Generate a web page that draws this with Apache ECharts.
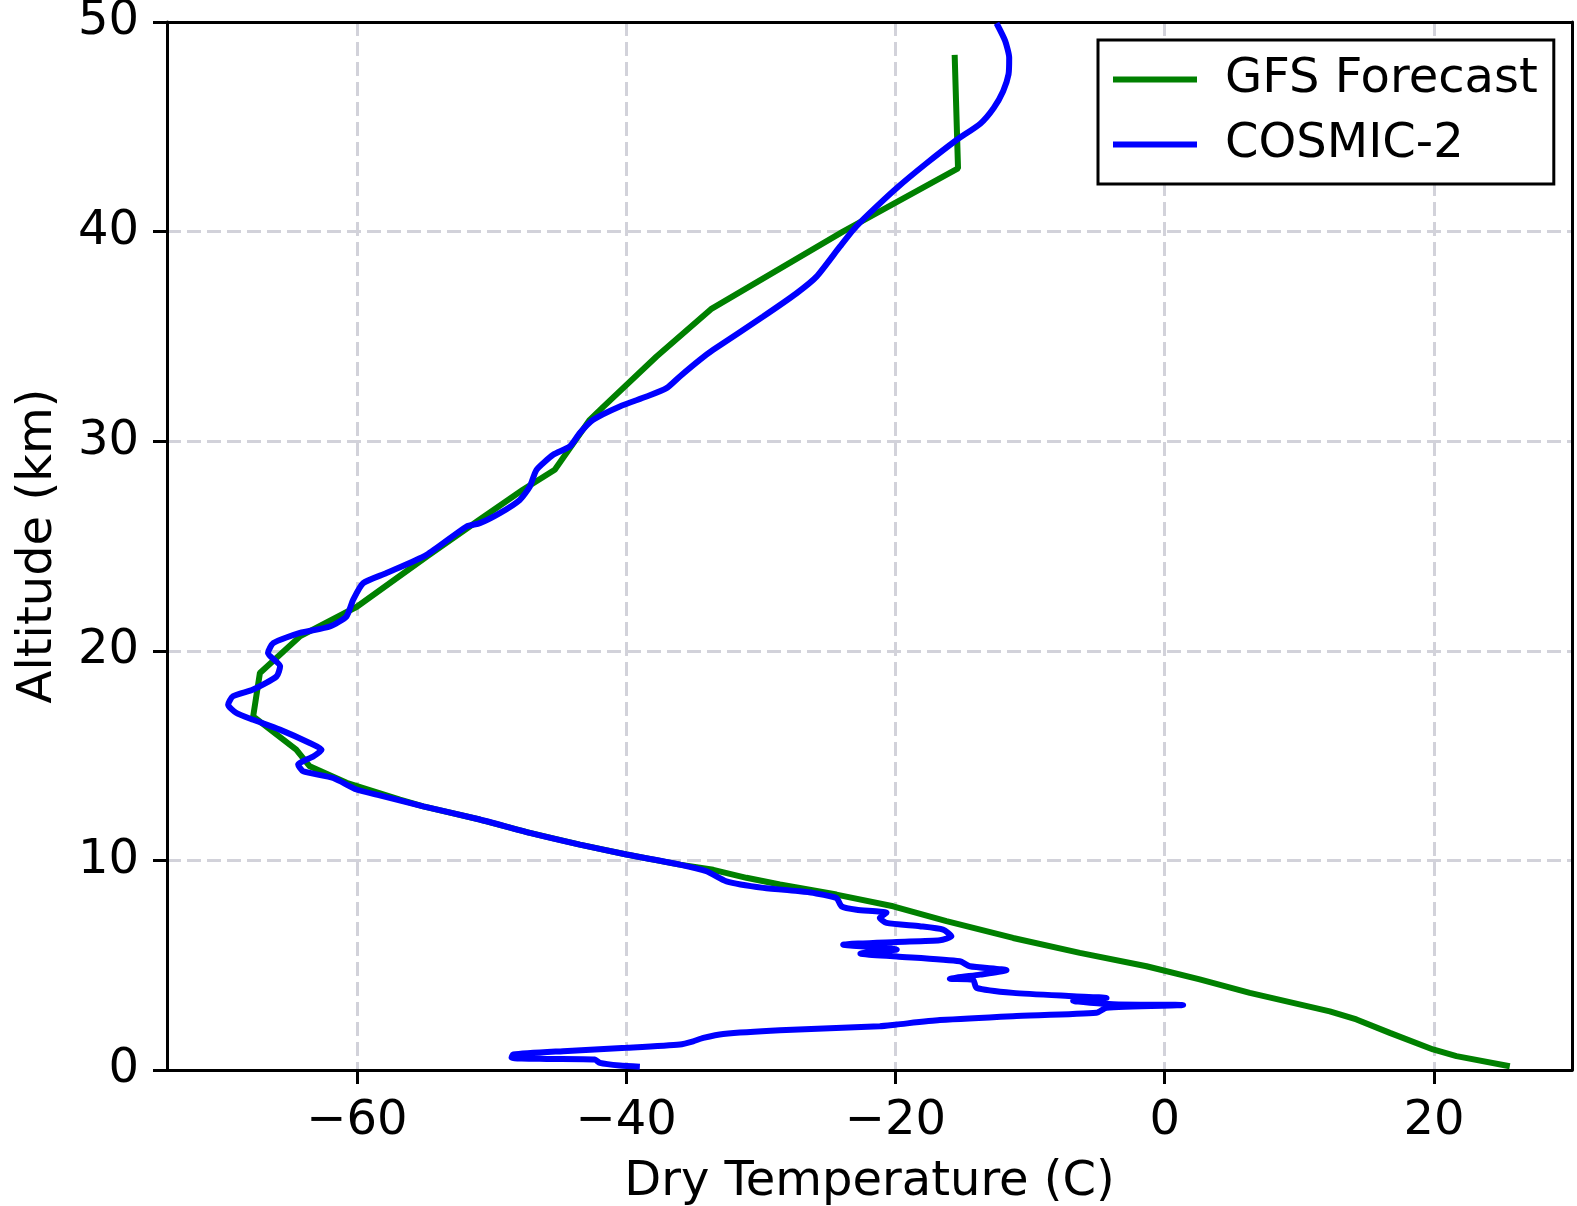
<!DOCTYPE html>
<html>
<head>
<meta charset="utf-8">
<script src="https://cdn.jsdelivr.net/npm/echarts@6/dist/echarts.min.js"></script>
<style>
  html, body { margin: 0; padding: 0; background: #fff; }
  #chart { width: 1577px; height: 1206px; }
</style>
</head>
<body>
<div id="chart"></div>
<script>
// Tick labels
const xTicks = [-60, -40, -20, 0, 20];
const yTicks = [0, 10, 20, 30, 40, 50];

// GFS Forecast: temperature (C) and altitude (km)
const gfsTemp = [-15.6, -15.35, -23.9, -33.7, -37.74, -41.7, -42.7, -45.3, -47.67, -50.9, -54.8, -60.0, -64.2, -67.2, -67.7, -64.5, -63.5, -60.76, -56.8, -55.07, -50.87, -47.15, -43.44, -39.97, -36.01, -33.53, -31.06, -28.58, -24.38, -20.17, -16.21, -11.26, -6.3, -1.35, 2.6, 6.32, 12.26, 14.24, 16.72, 19.93, 21.67, 25.63];
const gfsAlt  = [48.43, 43.02, 40.0, 36.3, 34.04, 31.64, 31.02, 28.64, 27.68, 26.25, 24.5, 22.1, 20.7, 18.94, 16.87, 15.28, 14.49, 13.7, 12.9, 12.58, 11.95, 11.31, 10.75, 10.28, 9.8, 9.55, 9.17, 8.85, 8.37, 7.81, 7.1, 6.3, 5.59, 4.95, 4.32, 3.68, 2.8, 2.41, 1.77, 0.98, 0.66, 0.18];

// COSMIC-2: temperature (C) and altitude (km)
const cosmicTemp = [-12.49, -11.85, -11.55, -11.6, -12.0, -12.7, -13.7, -15.46, -17.69, -19.92, -21.9, -23.14, -24.13, -25.86, -27.34, -29.82, -33.53, -34.53, -36.01, -37.0, -38.48, -40.47, -42.45, -43.44, -44.18, -45.42, -46.65, -47.15, -47.9, -49.38, -50.87, -51.85, -54.82, -57.8, -59.53, -60.27, -60.77, -62.0, -64.23, -66.2, -66.6, -65.7, -65.96, -67.7, -69.2, -69.56, -68.94, -67.7, -65.72, -63.5, -62.62, -63.24, -64.36, -63.99, -61.76, -60.02, -58.3, -55.07, -50.87, -47.15, -43.44, -39.97, -36.01, -34.03, -32.55, -29.82, -27.1, -26.11, -24.38, -24.0, -22.89, -20.66, -21.16, -20.66, -18.19, -16.46, -15.84, -16.7, -19.92, -23.88, -19.9, -22.6, -19.9, -15.22, -14.47, -11.75, -13.73, -15.96, -14.23, -13.98, -11.26, -6.8, -4.32, -6.8, -3.83, 1.37, -4.32, -5.07, -11.28, -16.7, -19.92, -21.16, -28.58, -32.79, -34.27, -35.02, -36.01, -39.97, -44.68, -48.39, -48.51, -45.91, -42.33, -41.95, -40.47, -38.98];
const cosmicAlt  = [49.94, 49.1, 48.3, 47.5, 46.7, 45.9, 45.15, 44.37, 43.26, 42.07, 40.89, 40.08, 39.28, 37.85, 37.06, 35.95, 34.36, 33.88, 33.09, 32.53, 32.13, 31.66, 31.02, 30.39, 29.75, 29.35, 28.64, 27.84, 27.2, 26.57, 26.09, 25.93, 24.58, 23.71, 23.23, 22.44, 21.64, 21.16, 20.85, 20.37, 19.9, 19.26, 18.78, 18.15, 17.83, 17.43, 17.03, 16.71, 16.24, 15.6, 15.28, 14.96, 14.57, 14.25, 13.93, 13.38, 13.1, 12.58, 11.95, 11.31, 10.75, 10.28, 9.8, 9.48, 9.0, 8.69, 8.53, 8.45, 8.21, 7.81, 7.65, 7.5, 7.26, 7.02, 6.86, 6.7, 6.38, 6.19, 6.11, 5.98, 5.75, 5.55, 5.42, 5.19, 4.95, 4.76, 4.55, 4.35, 4.3, 3.92, 3.68, 3.52, 3.44, 3.3, 3.14, 3.1, 2.97, 2.73, 2.57, 2.38, 2.17, 2.09, 1.9, 1.72, 1.53, 1.37, 1.22, 1.06, 0.9, 0.74, 0.58, 0.53, 0.5, 0.34, 0.21, 0.15];

const gfsData = gfsTemp.map((t, i) => [t, gfsAlt[i]]);
const cosmicData = cosmicTemp.map((t, i) => [t, cosmicAlt[i]]);

const FONT = 'DejaVu Sans';
const FS = 48;
const minus = v => String(v).replace('-', '\u2212');
const gridLine = { show: true, lineStyle: { color: '#d2d2da', width: 3, type: [14, 6] } };
const spine = { show: true, onZero: false, lineStyle: { color: '#000', width: 3 } };
const X_MIN = -74.1, X_MAX = 30.25;

const chart = echarts.init(document.getElementById('chart'), null, { renderer: 'canvas' });
chart.setOption({
  animation: false,
  backgroundColor: '#fff',
  grid: { left: 167, right: 5, top: 22, bottom: 136, containLabel: false, outerBoundsMode: 'none' },
  legend: {
    orient: 'vertical', left: 1098, top: 40,
    data: ['GFS Forecast', 'COSMIC-2'],
    icon: 'rect', itemWidth: 84, itemHeight: 6, itemGap: 14,
    borderColor: '#000', borderWidth: 3, borderRadius: 0,
    padding: [14, 16, 14, 15], backgroundColor: '#fff',
    textStyle: { fontSize: FS, fontFamily: FONT, color: '#000', lineHeight: 51, padding: [0, 0, 0, 23] }
  },
  xAxis: [{
    type: 'value', min: X_MIN, max: X_MAX,
    name: 'Dry Temperature (C)', nameLocation: 'middle', nameGap: 89,
    nameTextStyle: { fontSize: FS, fontFamily: FONT, color: '#000' },
    axisLine: spine,
    axisTick: { show: true, length: 14, customValues: xTicks, lineStyle: { color: '#000', width: 3 } },
    axisLabel: { customValues: xTicks, fontSize: FS, fontFamily: FONT, color: '#000', margin: 28, formatter: minus },
    splitLine: gridLine
  }, {
    type: 'value', min: X_MIN, max: X_MAX, position: 'top',
    axisLine: spine, axisTick: { show: false }, axisLabel: { show: false }, splitLine: { show: false }
  }],
  yAxis: [{
    type: 'value', min: 0, max: 50, interval: 10,
    name: 'Altitude (km)', nameLocation: 'middle', nameGap: 104,
    nameTextStyle: { fontSize: FS, fontFamily: FONT, color: '#000' },
    axisLine: spine,
    axisTick: { show: true, length: 14, lineStyle: { color: '#000', width: 3 } },
    axisLabel: { fontSize: FS, fontFamily: FONT, color: '#000', margin: 28, formatter: minus },
    splitLine: gridLine
  }, {
    type: 'value', min: 0, max: 50, interval: 10, position: 'right',
    axisLine: spine, axisTick: { show: false }, axisLabel: { show: false }, splitLine: { show: false }
  }],
  series: [
    { name: 'GFS Forecast', type: 'line', data: gfsData, showSymbol: false, symbol: 'none',
      lineStyle: { color: '#008000', width: 6 }, itemStyle: { color: '#008000' }, z: 3 },
    { name: 'COSMIC-2', type: 'line', data: cosmicData, showSymbol: false, symbol: 'none', smooth: 0.2,
      lineStyle: { color: '#0000ff', width: 6 }, itemStyle: { color: '#0000ff' }, z: 4 }
  ]
});
</script>
</body>
</html>
